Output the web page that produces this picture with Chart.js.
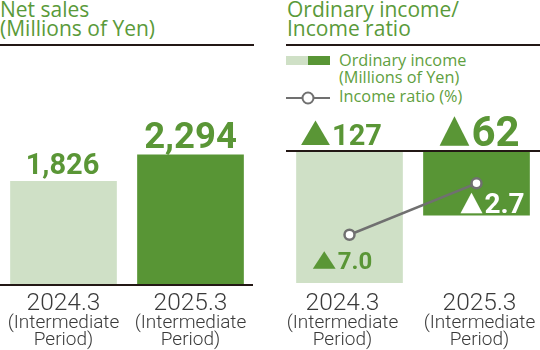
<!DOCTYPE html>
<html>
<head>
<meta charset="utf-8">
<title>Net sales / Ordinary income</title>
<script src="https://cdn.jsdelivr.net/npm/chart.js"></script>
<style>
    body {
        margin: 0;
        width: 540px;
        height: 350px;
        position: relative;
        overflow: hidden;
        background: #fff;
        font-family: 'Open Sans', sans-serif;
    }

    .title {
        position: absolute;
        top: 0;
        height: 46px;
        box-sizing: border-box;
        border-bottom: 2px solid #231815;
        color: #5a9a3a;
        font-size: 21px;
        font-weight: 500;
        line-height: 19px;
        white-space: nowrap;
    }

    .legend {
        position: absolute;
        color: #5fa040;
        font-size: 16.3px;
        line-height: 17px;
        white-space: nowrap;
    }

    canvas {
        position: absolute;
        top: 0;
    }
</style>
</head>
<body>
<div class="title" style="left:0; width:254px;">Net sales<br>(Millions of Yen)</div>
<div class="title" style="left:286px; width:254px; padding-left:1px;">Ordinary income/<br>Income ratio</div>

<div style="position:absolute; left:286px; top:56px; width:22px; height:9px; background:#cfe0c6;"></div>
<div style="position:absolute; left:308px; top:56px; width:22px; height:9px; background:#589535;"></div>
<div class="legend" style="left:339px; top:52px;">Ordinary income<br>(Millions of Yen)</div>
<svg style="position:absolute; left:284px; top:90px;" width="50" height="16">
    <line x1="2" y1="8" x2="46" y2="8" stroke="#707070" stroke-width="2"/>
    <circle cx="24" cy="8" r="5.5" fill="#fff" stroke="#707070" stroke-width="2"/>
</svg>
<div class="legend" style="left:339px; top:88px;">Income ratio (%)</div>

<canvas id="salesChart" width="254" height="350" style="left:0;"></canvas>
<canvas id="incomeChart" width="254" height="350" style="left:286px;"></canvas>

<script>
    const periods = ['2024.3', '2025.3'];
    const periodNote = ['(Intermediate', 'Period)'];
    const netSales = [1826, 2294];
    const ordinaryIncome = [-127, -62];
    const incomeRatio = [-7.0, -2.7];

    const lightGreen = '#cfe0c6';
    const darkGreen = '#589535';
    const labelGreen = '#5a9636';
    const tickFont = 'Roboto, sans-serif';
    const triFont = '"DejaVu Sans", sans-serif';

    // ▲ glyph stretched to a given box, bottom-left at (x, baseline)
    function drawTriangle(ctx, x, baseline, w, h) {
        ctx.save();
        ctx.font = `100px ${triFont}`;
        const m = ctx.measureText('▲');
        const bw = m.actualBoundingBoxLeft + m.actualBoundingBoxRight;
        const bh = m.actualBoundingBoxAscent + m.actualBoundingBoxDescent;
        ctx.translate(x, baseline);
        ctx.scale(w / bw, h / bh);
        ctx.textAlign = 'left';
        ctx.textBaseline = 'alphabetic';
        ctx.fillText('▲', m.actualBoundingBoxLeft, -m.actualBoundingBoxDescent);
        ctx.restore();
    }

    // draws a number; negative values get the ▲ mark in front
    function drawValue(ctx, value, cx, baseline, size, tri, color, decimals) {
        const text = Math.abs(value).toLocaleString('en-US', {
            minimumFractionDigits: decimals,
            maximumFractionDigits: decimals
        });
        ctx.fillStyle = color;
        ctx.textBaseline = 'alphabetic';
        ctx.textAlign = 'left';
        ctx.font = `700 ${size}px ${tickFont}`;
        const w = ctx.measureText(text).width;
        const neg = value < 0;
        const tw = neg ? tri[0] + 2 : 0;
        let x = cx - (tw + w) / 2;
        if (neg) {
            drawTriangle(ctx, x, baseline, tri[0], tri[1]);
            x += tw;
        }
        ctx.fillText(text, x, baseline);
    }

    // category labels under the axis, three lines each
    const periodLabels = {
        id: 'periodLabels',
        afterDraw(chart, args, opts) {
            const ctx = chart.ctx;
            const x = chart.scales.x;
            ctx.save();
            ctx.fillStyle = '#3a3a3a';
            ctx.textAlign = 'center';
            ctx.textBaseline = 'alphabetic';
            chart.data.labels.forEach((label, i) => {
                const cx = x.getPixelForValue(i) + opts.shift[i];
                ctx.font = `300 24.5px ${tickFont}`;
                ctx.fillText(label, cx, 310);
                ctx.font = `300 19px ${tickFont}`;
                ctx.fillText(periodNote[0], cx, 328);
                ctx.fillText(periodNote[1], cx, 345);
            });
            ctx.restore();
        }
    };

    // black rule along the zero value
    const zeroLine = {
        id: 'zeroLine',
        afterDatasetsDraw(chart, args, opts) {
            const ctx = chart.ctx;
            const y = Math.round(chart.scales.y.getPixelForValue(0));
            ctx.save();
            ctx.fillStyle = '#231815';
            ctx.fillRect(opts.x0, y - 1, opts.x1 - opts.x0, 2);
            ctx.restore();
        }
    };

    // value labels above the bars
    const barValues = {
        id: 'barValues',
        afterDraw(chart, args, opts) {
            const ctx = chart.ctx;
            const meta = chart.getDatasetMeta(0);
            const values = chart.data.datasets[0].data;
            ctx.save();
            meta.data.forEach((bar, i) => {
                const top = Math.min(bar.y, bar.base);
                drawValue(ctx, values[i], bar.x + opts.dx[i], top - opts.gap[i],
                    opts.size[i], opts.tri[i], labelGreen, 0);
            });
            ctx.restore();
        }
    };

    // value labels next to the ratio points
    const ratioValues = {
        id: 'ratioValues',
        afterDraw(chart, args, opts) {
            const ctx = chart.ctx;
            const meta = chart.getDatasetMeta(1);
            const values = chart.data.datasets[1].data;
            ctx.save();
            meta.data.forEach((pt, i) => {
                drawValue(ctx, values[i], pt.x + opts.dx[i], pt.y + opts.dy[i],
                    opts.size[i], opts.tri[i], opts.color[i], 1);
            });
            ctx.restore();
        }
    };

    new Chart(document.getElementById('salesChart'), {
        type: 'bar',
        data: {
            labels: periods,
            datasets: [{
                data: netSales,
                backgroundColor: [lightGreen, darkGreen],
                barPercentage: 0.84,
                categoryPercentage: 1
            }]
        },
        options: {
            responsive: false,
            animation: false,
            layout: {autoPadding: false, padding: {top: 46, bottom: 65, left: 0, right: 0}},
            scales: {
                x: {display: false},
                y: {display: false, min: 0, max: 4200}
            },
            plugins: {
                legend: {display: false},
                tooltip: {enabled: false},
                periodLabels: {shift: [0, 0]},
                zeroLine: {x0: 0, x1: 253},
                barValues: {dx: [-1, 0], gap: [7, 6], size: [29, 36.5], tri: [null, null]}
            }
        },
        plugins: [periodLabels, zeroLine, barValues]
    });

    new Chart(document.getElementById('incomeChart'), {
        type: 'bar',
        data: {
            labels: periods,
            datasets: [{
                type: 'bar',
                data: ordinaryIncome,
                yAxisID: 'y',
                backgroundColor: [lightGreen, darkGreen],
                barPercentage: 0.84,
                categoryPercentage: 1,
                order: 1
            }, {
                type: 'line',
                data: incomeRatio,
                yAxisID: 'y1',
                borderColor: '#707070',
                borderWidth: 2.5,
                pointRadius: 5,
                pointBorderWidth: 2.5,
                pointBackgroundColor: '#fff',
                pointBorderColor: '#707070',
                clip: false,
                order: 0
            }]
        },
        options: {
            responsive: false,
            animation: false,
            layout: {autoPadding: false, padding: {top: 151, bottom: 65, left: 0, right: 0}},
            scales: {
                x: {display: false},
                y: {display: false, min: -129, max: 0},
                y1: {display: false, min: -11.2, max: 0}
            },
            plugins: {
                legend: {display: false},
                tooltip: {enabled: false},
                periodLabels: {shift: [-7, 3]},
                zeroLine: {x0: 0, x1: 254},
                barValues: {dx: [-8, 3], gap: [6, 5], size: [29, 42], tri: [[29, 25], [30, 30]]},
                ratioValues: {
                    dx: [-7, 16], dy: [34, 30], size: [24, 28], tri: [[23, 18], [22, 21]],
                    color: [labelGreen, '#ffffff']
                }
            }
        },
        plugins: [periodLabels, zeroLine, barValues, ratioValues]
    });
</script>
</body>
</html>
